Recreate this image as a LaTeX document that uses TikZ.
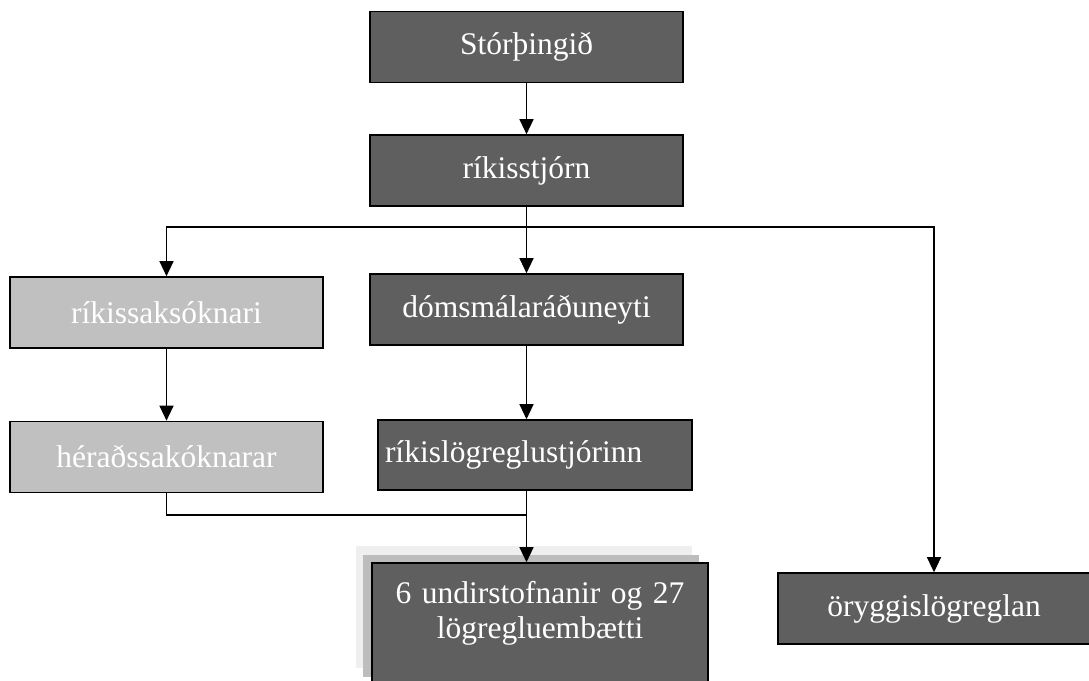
\documentclass[tikz,border=0pt]{standalone}
\usepackage{fontspec}
\setmainfont{Liberation Serif}
\usetikzlibrary{arrows.meta, positioning, calc, shadows}

\definecolor{boxdark}{HTML}{5F5F5F}
\definecolor{boxlight}{HTML}{C0C0C0}
\definecolor{shadelight}{HTML}{EFEFEF}
\definecolor{shadedark}{HTML}{BDBDBD}

\tikzset{
  org/.style={draw=black, line width=1.6pt, fill=boxdark, text=white, inner sep=0pt,
    minimum width=313pt, minimum height=71pt, font=\fontsize{31.5}{35}\selectfont},
  orglight/.style={org, fill=boxlight},
  link/.style={line width=1.2pt},
  arr/.style={link, -{Triangle[length=15pt,width=14pt]}},
}

\begin{document}
\begin{tikzpicture}[x=1pt,y=-1pt]
    \clip (0,0) rectangle (1089,680);
    % top of the tree
    \node[org] (thing) at (526.5,47) {Stórþingið};
    \node[org] (stjorn) at (526.5,170.5) {ríkisstjórn};
    % left column
    \node[orglight] (saksok) at (166.5,312.5) {ríkissaksóknari};
    \node[orglight] (herad) at (166.5,457) {héraðssakóknarar};
    % middle column
    \node[org] (domsmal) at (526.5,309.5) {dómsmálaráðuneyti};
    \node[org, minimum width=314pt, minimum height=70pt, text width=300pt, align=left, inner xsep=7pt] (rls) at (535,455) {ríkislögreglustjórinn};
    \node[org, minimum width=336pt, minimum height=122pt, text width=320pt, align=center, text depth=63.5pt,
        general shadow={fill=shadelight, shadow xshift=-16pt, shadow yshift=17pt},
        general shadow={fill=shadedark, shadow xshift=-9pt, shadow yshift=8pt}] (undir) at (540,624) {6 undirstofnanir og 27\\lögregluembætti};
    % right column
    \node[org, minimum width=312pt] (oryggi) at (934,608.5) {öryggislögreglan};

    \coordinate (split) at (526.5,227);
    \coordinate (join) at (526.5,515);

    % connectors
    \draw[arr] (thing) -- (stjorn);
    \draw[arr] (stjorn.south) -- (domsmal.north);
    \draw[arr] (split) -| (saksok.north);
    \draw[arr] (split) -| (oryggi.north);
    \draw[arr] (saksok) -- (herad);
    \draw[arr] (domsmal.south) -- (domsmal.south |- rls.north);
    \draw[link] (herad.south) |- (join);
    \draw[link] (rls.south -| join) -- (join);
    \draw[arr] (join) -- (undir.north -| join);
\end{tikzpicture}
\end{document}
